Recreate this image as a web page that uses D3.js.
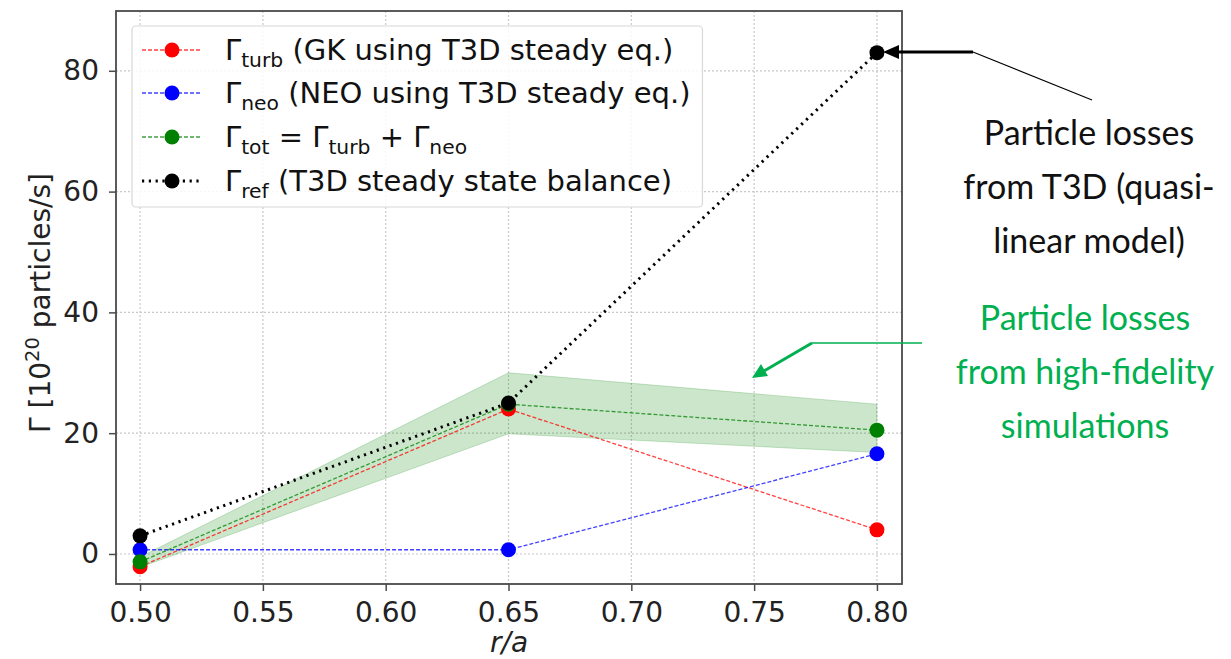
<!DOCTYPE html>
<html><head><meta charset="utf-8">
<script src="https://cdn.jsdelivr.net/npm/d3@7"></script>
<style>
body{margin:0;background:#fff;}
svg{display:block;}
</style></head>
<body><svg id="chart" width="1231" height="659"></svg>
<script>
// ---- data ----
const rA = [0.50, 0.65, 0.80];
const gammaTurb = [-2.1, 24.0, 4.0];
const gammaNeo = [0.7, 0.7, 16.6];
const gammaTot = [-1.3, 24.8, 20.5];
const gammaRef = [3.0, 25.0, 83.0];
const bandLow = [-2.2, 19.9, 16.8];
const bandHigh = [-0.5, 30.0, 24.8];
const xTicks = [0.50, 0.55, 0.60, 0.65, 0.70, 0.75, 0.80];
const yTicks = [0, 20, 40, 60, 80];

const svg = d3.select("#chart");
const L = 116, R = 902, T = 11, B = 584;
const x = d3.scaleLinear().domain([0.4902, 0.8102]).range([L, R]);
const y = d3.scaleLinear().domain([-4.97, 89.9]).range([B, T]);
const font = "'DejaVu Sans', sans-serif";
const FS = 28;

// grid
const grid = svg.append("g");
grid.selectAll(".gx").data(xTicks).join("line")
  .attr("x1", d => x(d)).attr("x2", d => x(d)).attr("y1", T).attr("y2", B)
  .attr("stroke", "#c8c8c8").attr("stroke-width", 1.2).attr("stroke-dasharray", "2,2");
grid.selectAll(".gy").data(yTicks).join("line")
  .attr("y1", d => y(d)).attr("y2", d => y(d)).attr("x1", L).attr("x2", R)
  .attr("stroke", "#c8c8c8").attr("stroke-width", 1.2).attr("stroke-dasharray", "2,2");

// band
const area = d3.area().x((d, i) => x(rA[i])).y0((d, i) => y(bandLow[i])).y1((d, i) => y(bandHigh[i]));
svg.append("path").attr("d", area(rA)).attr("fill", "#008000").attr("fill-opacity", 0.2)
  .attr("stroke", "#008000").attr("stroke-opacity", 0.2).attr("stroke-width", 1);

const line = vals => d3.line().x((d, i) => x(rA[i])).y((d, i) => y(vals[i]))(rA);

const series = [
  {v: gammaTurb, c: "#ff0000", dash: "4,2", w: 1.3, op: 0.75},
  {v: gammaNeo, c: "#0000ff", dash: "4,2", w: 1.3, op: 0.75},
  {v: gammaTot, c: "#008000", dash: "4,2", w: 1.3, op: 0.75},
  {v: gammaRef, c: "#000000", dash: "2.2,4.6", w: 3, op: 1}
];
series.forEach(s => {
  svg.append("path").attr("d", line(s.v)).attr("fill", "none").attr("stroke", s.c)
    .attr("stroke-width", s.w).attr("stroke-dasharray", s.dash).attr("stroke-opacity", s.op);
});
series.forEach(s => {
  svg.append("g").selectAll("circle").data(rA).join("circle")
    .attr("cx", d => x(d)).attr("cy", (d, i) => y(s.v[i])).attr("r", 7.5).attr("fill", s.c);
});

// frame
svg.append("rect").attr("x", L).attr("y", T).attr("width", R - L).attr("height", B - T)
  .attr("fill", "none").attr("stroke", "#4a4a4a").attr("stroke-width", 1.8);

// axes
const xAxis = svg.append("g").attr("transform", `translate(0,${B})`)
  .call(d3.axisBottom(x).tickValues(xTicks).tickFormat(d3.format(".2f")).tickSize(7).tickPadding(11));
const yAxis = svg.append("g").attr("transform", `translate(${L},0)`)
  .call(d3.axisLeft(y).tickValues(yTicks).tickSize(7).tickPadding(10));
[xAxis, yAxis].forEach(a => {
  a.select(".domain").remove();
  a.selectAll("line").attr("stroke", "#4a4a4a").attr("stroke-width", 1.5);
  a.selectAll("text").attr("font-family", font).attr("font-size", FS).attr("fill", "#222");
});

// axis labels
svg.append("text").attr("x", (L + R) / 2).attr("y", 652).attr("text-anchor", "middle")
  .attr("font-family", font).attr("font-size", FS).attr("font-style", "italic").attr("fill", "#222").text("r/a");
const yl = svg.append("text").attr("transform", `translate(50,303) rotate(-90)`)
  .attr("text-anchor", "middle").attr("font-family", font).attr("font-size", FS).attr("fill", "#222");
yl.append("tspan").text("Γ [10");
yl.append("tspan").attr("font-size", 19.5).attr("dy", -11).text("20");
yl.append("tspan").attr("dy", 11).text(" particles/s]");

// legend
const LFS = 29;
const lg = svg.append("g");
const lgBox = lg.append("rect").attr("x", 132).attr("y", 26).attr("height", 181).attr("rx", 4)
  .attr("fill", "#fff").attr("fill-opacity", 0.85).attr("stroke", "#d8d8d8").attr("stroke-width", 1.2);
const legendItems = [
  {s: series[0], parts: [["Γ", 0], ["turb", 1], [" (GK using T3D steady eq.)", 0]]},
  {s: series[1], parts: [["Γ", 0], ["neo", 1], [" (NEO using T3D steady eq.)", 0]]},
  {s: series[2], parts: [["Γ", 0], ["tot", 1], [" = Γ", 0], ["turb", 1], [" + Γ", 0], ["neo", 1]]},
  {s: series[3], parts: [["Γ", 0], ["ref", 1], [" (T3D steady state balance)", 0]]}
];
const ly = [50, 93, 137, 181];
let maxW = 0;
legendItems.forEach((it, i) => {
  const g = lg.append("g").attr("transform", `translate(0,${ly[i]})`);
  g.append("line").attr("x1", 142).attr("x2", 202).attr("y1", 0).attr("y2", 0)
    .attr("stroke", it.s.c).attr("stroke-width", it.s.w).attr("stroke-dasharray", it.s.dash).attr("stroke-opacity", it.s.op);
  g.append("circle").attr("cx", 172).attr("cy", 0).attr("r", 7.5).attr("fill", it.s.c);
  const t = g.append("text").attr("x", 225).attr("y", 10).attr("font-family", font).attr("font-size", LFS).attr("fill", "#111");
  let prevSub = 0;
  it.parts.forEach(([txt, sub]) => {
    const ts = t.append("tspan").text(txt).attr("font-size", sub ? LFS * 0.7 : LFS);
    const dy = (sub ? 7 : 0) - (prevSub ? 7 : 0);
    if (dy) ts.attr("dy", dy);
    prevSub = sub;
  });
  maxW = Math.max(maxW, t.node().getComputedTextLength());
});
lgBox.attr("width", 225 + maxW + 12 - 132);

// annotations
const annFont = "Lato, 'Open Sans', sans-serif";
const blackLines = ["Particle losses", "from T3D (quasi-", "linear model)"];
svg.append("g").selectAll("text").data(blackLines).join("text")
  .attr("x", 1089).attr("y", (d, i) => 145 + i * 54).attr("text-anchor", "middle")
  .attr("font-family", annFont).attr("font-size", 34).attr("fill", "#111").text(d => d);
const greenLines = ["Particle losses", "from high-fidelity", "simulations"];
svg.append("g").selectAll("text").data(greenLines).join("text")
  .attr("x", 1085).attr("y", (d, i) => 330 + i * 54).attr("text-anchor", "middle")
  .attr("font-family", annFont).attr("font-size", 34).attr("fill", "#00b050").text(d => d);

// arrows
svg.append("path").attr("d", "M1092,100 L973,52").attr("fill", "none").attr("stroke", "#000").attr("stroke-width", 1.2);
svg.append("path").attr("d", "M973,52 L897,52").attr("stroke", "#000").attr("stroke-width", 3);
svg.append("path").attr("d", "M883,52 L899,45 L899,59 Z").attr("fill", "#000");
svg.append("path").attr("d", "M922,343 L812,343").attr("fill", "none").attr("stroke", "#00b050").attr("stroke-width", 1.5);
svg.append("path").attr("d", "M812,343 L764,371").attr("stroke", "#00b050").attr("stroke-width", 3);
svg.append("path").attr("d", "M752,378 L761,364 L768,376 Z").attr("fill", "#00b050");
</script></body></html>
